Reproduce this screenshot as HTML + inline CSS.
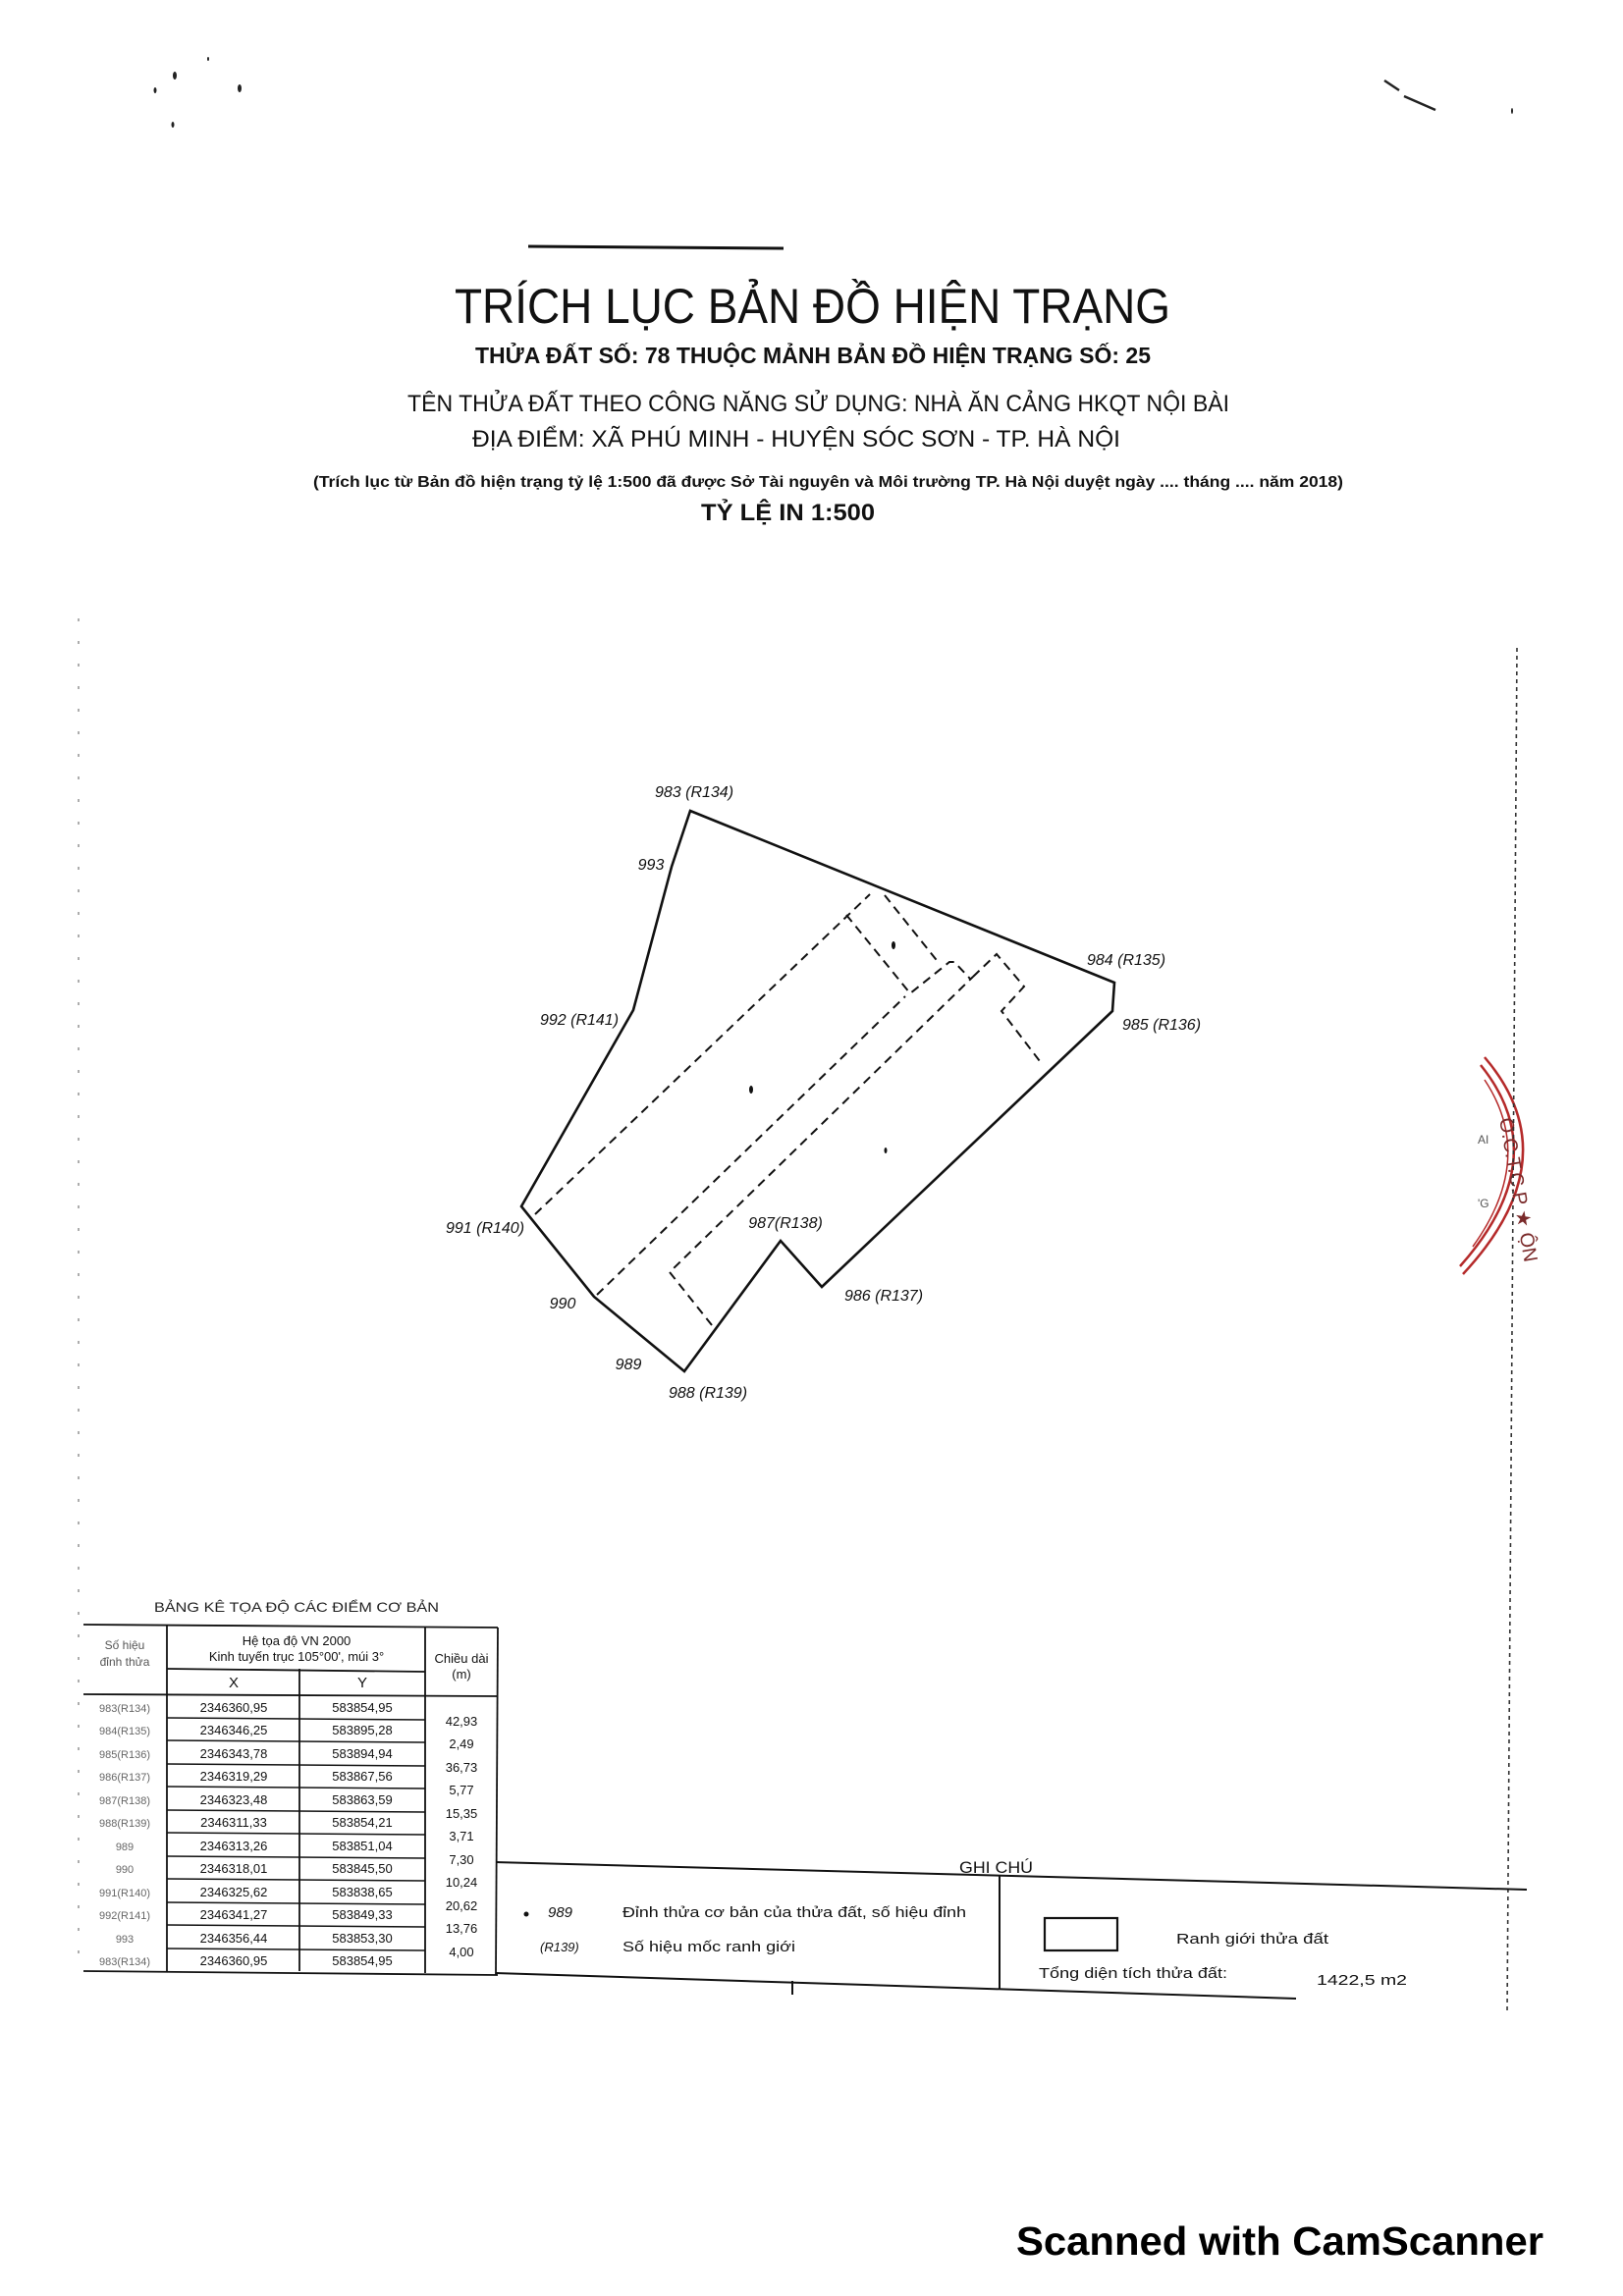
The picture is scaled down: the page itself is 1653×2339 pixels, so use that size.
<!DOCTYPE html>
<html><head><meta charset="utf-8"><style>
html,body{margin:0;padding:0;background:#fff}
svg{display:block}
text{font-family:"Liberation Sans",sans-serif}
</style></head><body>
<svg width="1653" height="2339" viewBox="0 0 1653 2339" xmlns="http://www.w3.org/2000/svg">
<rect width="1653" height="2339" fill="#fff"/>
<!-- specks -->
<g fill="#222">
<ellipse cx="178" cy="77" rx="2" ry="4"/><ellipse cx="244" cy="90" rx="2" ry="4"/><ellipse cx="158" cy="92" rx="1.5" ry="3"/><ellipse cx="176" cy="127" rx="1.5" ry="3"/>
<ellipse cx="212" cy="60" rx="1" ry="2"/><ellipse cx="1540" cy="113" rx="1" ry="3"/>
</g>
<path d="M1410,82 L1425,92 M1430,98 L1462,112" stroke="#222" stroke-width="2.5" fill="none"/>
<!-- top rule -->
<line x1="538" y1="251" x2="798" y2="253" stroke="#111" stroke-width="3"/>
<!-- titles -->
<text x="463" y="329" font-size="50" textLength="729" lengthAdjust="spacingAndGlyphs" fill="#111">TRÍCH LỤC BẢN ĐỒ HIỆN TRẠNG</text>
<text x="484" y="370" font-size="23" font-weight="bold" textLength="688" lengthAdjust="spacingAndGlyphs" fill="#111">THỬA ĐẤT SỐ: 78 THUỘC MẢNH BẢN ĐỒ HIỆN TRẠNG SỐ: 25</text>
<text x="415" y="419" font-size="24" textLength="837" lengthAdjust="spacingAndGlyphs" fill="#111">TÊN THỬA ĐẤT THEO CÔNG NĂNG SỬ DỤNG: NHÀ ĂN CẢNG HKQT NỘI BÀI</text>
<text x="481" y="455" font-size="24" textLength="660" lengthAdjust="spacingAndGlyphs" fill="#111">ĐỊA ĐIỂM: XÃ PHÚ MINH - HUYỆN SÓC SƠN - TP. HÀ NỘI</text>
<text x="319" y="496" font-size="16" font-weight="bold" textLength="1049" lengthAdjust="spacingAndGlyphs" fill="#111">(Trích lục từ Bản đồ hiện trạng tỷ lệ 1:500 đã được Sở Tài nguyên và Môi trường TP. Hà Nội duyệt ngày .... tháng .... năm 2018)</text>
<text x="714" y="530" font-size="24" font-weight="bold" textLength="177" lengthAdjust="spacingAndGlyphs" fill="#111">TỶ LỆ IN 1:500</text>

<!-- parcel -->
<polygon points="703,826 1135,1001 1133,1030 837,1311 795,1264 697,1397 605,1321 531,1229 645,1029 684,883" fill="none" stroke="#111" stroke-width="2.6"/>
<g fill="none" stroke="#111" stroke-width="2" stroke-dasharray="9,6">
<polyline points="545,1237 886,911"/>
<polyline points="862,932 927,1012 967,980 972,980 988,997"/>
<polyline points="901,912 957,982"/>
<polyline points="608,1319 922,1015"/>
<polyline points="725,1350 682,1296 991,995"/>
<polyline points="991,995 1015,972 1043,1005 1020,1030 1062,1085"/>
</g>
<g fill="#111"><ellipse cx="910" cy="963" rx="2" ry="4"/><ellipse cx="765" cy="1110" rx="2" ry="4"/><ellipse cx="902" cy="1172" rx="1.5" ry="3"/></g>
<g font-size="16" font-style="italic" fill="#111" text-anchor="middle">
<text x="707" y="812">983 (R134)</text>
<text x="663" y="886">993</text>
<text x="590" y="1044">992 (R141)</text>
<text x="494" y="1256">991 (R140)</text>
<text x="573" y="1333">990</text>
<text x="640" y="1395">989</text>
<text x="721" y="1424">988 (R139)</text>
<text x="800" y="1251">987(R138)</text>
<text x="900" y="1325">986 (R137)</text>
<text x="1147" y="983">984 (R135)</text>
<text x="1183" y="1049">985 (R136)</text>
</g>

<!-- stamp -->
<g fill="none" stroke="#b52a2a" stroke-width="2.5">
<path d="M1512,1077 Q1600,1180 1490,1298"/>
<path d="M1508,1085 Q1585,1180 1487,1290"/>
<path d="M1512,1100 Q1565,1180 1500,1270" stroke-width="1.5"/>
</g>
<text x="1527" y="1140" font-size="20" fill="#7a2a2a" transform="rotate(80 1527 1140)">O.C.T.C.P ★ ỘN</text>
<text x="1505" y="1165" font-size="12" fill="#555">AI</text>
<text x="1505" y="1230" font-size="12" fill="#555">'G</text>
<!-- right dashed border -->
<line x1="1545" y1="660" x2="1535" y2="2050" stroke="#333" stroke-width="1.6" stroke-dasharray="4,4"/>
<line x1="80" y1="630" x2="80" y2="2000" stroke="#777" stroke-width="1.2" stroke-dasharray="3,20"/>

<!-- table -->
<text x="157" y="1642" font-size="14" textLength="290" lengthAdjust="spacingAndGlyphs" fill="#222">BẢNG KÊ TỌA ĐỘ CÁC ĐIỂM CƠ BẢN</text>
<g stroke="#111" stroke-width="1.8" fill="none">
<line x1="85" y1="1655" x2="507" y2="1658"/>
<line x1="170" y1="1700" x2="433" y2="1703"/>
<line x1="85" y1="1726" x2="507" y2="1728"/>
<line x1="170" y1="1655" x2="170" y2="2008"/>
<line x1="305" y1="1700" x2="305" y2="2008"/>
<line x1="433" y1="1657" x2="433" y2="2010"/>
<line x1="507" y1="1658" x2="505" y2="2012"/>
<line x1="85" y1="2008" x2="507" y2="2012"/>
</g>
<g stroke="#111" stroke-width="1.5">
<line x1="170" y1="1750" x2="433" y2="1752"/><line x1="170" y1="1773" x2="433" y2="1775"/><line x1="170" y1="1797" x2="433" y2="1799"/><line x1="170" y1="1820" x2="433" y2="1822"/><line x1="170" y1="1844" x2="433" y2="1846"/><line x1="170" y1="1867" x2="433" y2="1869"/><line x1="170" y1="1891" x2="433" y2="1893"/><line x1="170" y1="1914" x2="433" y2="1916"/><line x1="170" y1="1938" x2="433" y2="1940"/><line x1="170" y1="1961" x2="433" y2="1963"/><line x1="170" y1="1985" x2="433" y2="1987"/>
</g>
<g font-size="12" fill="#555" text-anchor="middle"><text x="127" y="1680">Số hiệu</text><text x="127" y="1697">đỉnh thửa</text></g>
<g font-size="13" fill="#111" text-anchor="middle">
<text x="302" y="1676">Hệ tọa độ VN 2000</text>
<text x="302" y="1692">Kinh tuyến trục 105°00', múi 3°</text>
<text x="470" y="1694">Chiều dài</text><text x="470" y="1710">(m)</text>
<text x="238" y="1719" font-size="15">X</text><text x="369" y="1719" font-size="15">Y</text>
</g>
<g font-size="13" fill="#111" text-anchor="middle">
<text x="238" y="1744">2346360,95</text><text x="369" y="1744">583854,95</text>
<text x="238" y="1767">2346346,25</text><text x="369" y="1767">583895,28</text>
<text x="238" y="1791">2346343,78</text><text x="369" y="1791">583894,94</text>
<text x="238" y="1814">2346319,29</text><text x="369" y="1814">583867,56</text>
<text x="238" y="1838">2346323,48</text><text x="369" y="1838">583863,59</text>
<text x="238" y="1861">2346311,33</text><text x="369" y="1861">583854,21</text>
<text x="238" y="1885">2346313,26</text><text x="369" y="1885">583851,04</text>
<text x="238" y="1908">2346318,01</text><text x="369" y="1908">583845,50</text>
<text x="238" y="1932">2346325,62</text><text x="369" y="1932">583838,65</text>
<text x="238" y="1955">2346341,27</text><text x="369" y="1955">583849,33</text>
<text x="238" y="1979">2346356,44</text><text x="369" y="1979">583853,30</text>
<text x="238" y="2002">2346360,95</text><text x="369" y="2002">583854,95</text>
</g>
<g font-size="13" fill="#111" text-anchor="middle">
<text x="470" y="1758">42,93</text><text x="470" y="1781">2,49</text><text x="470" y="1805">36,73</text><text x="470" y="1828">5,77</text><text x="470" y="1852">15,35</text><text x="470" y="1875">3,71</text><text x="470" y="1899">7,30</text><text x="470" y="1922">10,24</text><text x="470" y="1946">20,62</text><text x="470" y="1969">13,76</text><text x="470" y="1993">4,00</text>
</g>
<g font-size="11" fill="#666" text-anchor="middle">
<text x="127" y="1744">983(R134)</text><text x="127" y="1767">984(R135)</text><text x="127" y="1791">985(R136)</text><text x="127" y="1814">986(R137)</text><text x="127" y="1838">987(R138)</text><text x="127" y="1861">988(R139)</text><text x="127" y="1885">989</text><text x="127" y="1908">990</text><text x="127" y="1932">991(R140)</text><text x="127" y="1955">992(R141)</text><text x="127" y="1979">993</text><text x="127" y="2002">983(R134)</text>
</g>

<!-- ghi chu -->
<text x="977" y="1908" font-size="17" textLength="75" lengthAdjust="spacingAndGlyphs" fill="#111">GHI CHÚ</text>
<g stroke="#111" stroke-width="2" fill="none">
<line x1="505" y1="1897" x2="1555" y2="1925"/>
<line x1="505" y1="2010" x2="1320" y2="2036"/>
<line x1="1018" y1="1910" x2="1018" y2="2026"/>
<line x1="807" y1="2018" x2="807" y2="2032"/>
<rect x="1064" y="1954" width="74" height="33" stroke-width="2.2"/>
</g>
<circle cx="536" cy="1950" r="2.5" fill="#111"/>
<g font-size="15" fill="#111">
<text x="558" y="1953" font-style="italic">989</text>
<text x="634" y="1953" textLength="350" lengthAdjust="spacingAndGlyphs">Đỉnh thửa cơ bản của thửa đất, số hiệu đỉnh</text>
<text x="550" y="1988" font-style="italic" font-size="13">(R139)</text>
<text x="634" y="1988" textLength="176" lengthAdjust="spacingAndGlyphs">Số hiệu mốc ranh giới</text>
<text x="1198" y="1980" textLength="155" lengthAdjust="spacingAndGlyphs">Ranh giới thửa đất</text>
<text x="1058" y="2015" textLength="192" lengthAdjust="spacingAndGlyphs">Tổng diện tích thửa đất:</text>
<text x="1341" y="2022" textLength="92" lengthAdjust="spacingAndGlyphs">1422,5 m2</text>
</g>

<text x="1035" y="2297" font-size="41" font-weight="bold" textLength="537" lengthAdjust="spacingAndGlyphs" fill="#000">Scanned with CamScanner</text>
</svg>
</body></html>
